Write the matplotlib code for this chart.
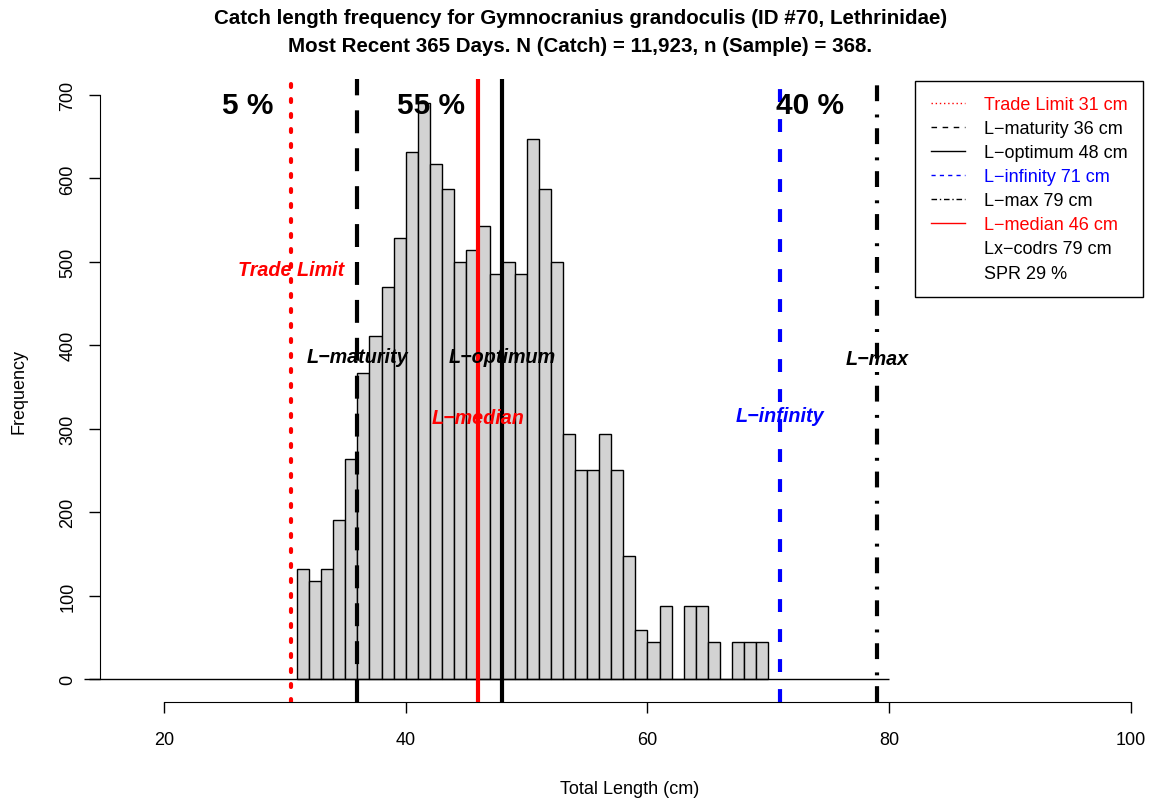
import numpy as np
import matplotlib
matplotlib.use("Agg")
import matplotlib.pyplot as plt
from matplotlib.lines import Line2D

plt.rcParams['font.family'] = ['Liberation Sans', 'DejaVu Sans']

# length bins (cm, left edges) and frequencies
bin_left = list(range(31, 70))
freq = [132, 117, 132, 191, 264, 367, 411, 470, 529, 632,
        690, 617, 587, 500, 514, 543, 485, 500, 485, 647,
        587, 500, 294, 250, 250, 294, 250, 147, 59, 44,
        88, 0, 88, 88, 44, 0, 44, 44, 44]

# reference lengths
trade_limit = 30.5
l_maturity = 36
l_optimum = 48
l_infinity = 71
l_max = 79
l_median = 46

pct_labels = ["5 %", "55 %", "40 %"]
pct_x = [26.95, 42.1, 73.45]

legend_labels = ["Trade Limit 31 cm", "L\u2212maturity 36 cm", "L\u2212optimum 48 cm",
                 "L\u2212infinity 71 cm", "L\u2212max 79 cm", "L\u2212median 46 cm",
                 "Lx\u2212codrs 79 cm", "SPR 29 %"]
legend_colors = ["red", "black", "black", "blue", "black", "red", "black", "black"]

fig = plt.figure(figsize=(11.61, 8.03), dpi=100)
ax = fig.add_axes([100 / 1161, 100 / 803, 1060 / 1161, 623 / 803])

ax.bar(bin_left, freq, width=1, align='edge', color='#D3D3D3',
       edgecolor='black', linewidth=1, zorder=2)
ax.hlines(0, 13.4, 80, color='black', linewidth=1, zorder=3, clip_on=False)

# vertical reference lines
ax.axvline(trade_limit, color='red', lw=3, linestyle=(0, (0.7, 2.9)),
           dash_capstyle='round', zorder=4)
ax.axvline(l_maturity, color='black', lw=3, linestyle=(0, (5.5, 3.6)), zorder=4)
ax.axvline(l_optimum, color='black', lw=3, zorder=4)
ax.axvline(l_infinity, color='blue', lw=3, linestyle=(0, (3.1, 4.1)), zorder=4)
ax.axvline(l_max, color='black', lw=3, linestyle=(0, (3.8, 2.6, 0.7, 3.2)), zorder=4)
ax.axvline(l_median, color='red', lw=3, zorder=4)

# line labels
lab_kw = dict(ha='center', va='center', fontsize=14.2, fontweight='bold',
              fontstyle='italic', zorder=5)
ax.text(trade_limit, 491, "Trade Limit", color='red', **lab_kw)
ax.text(l_maturity, 386, "L\u2212maturity", color='black', **lab_kw)
ax.text(l_optimum, 386, "L\u2212optimum", color='black', **lab_kw)
ax.text(l_median, 313, "L\u2212median", color='red', **lab_kw)
ax.text(l_infinity, 316, "L\u2212infinity", color='blue', **lab_kw)
ax.text(l_max, 384, "L\u2212max", color='black', **lab_kw)

for x, t in zip(pct_x, pct_labels):
    ax.text(x, 688, t, ha='center', va='center', fontsize=21.5,
            fontweight='bold', zorder=5)

# legend
handles = [
    Line2D([], [], color='red', lw=1, linestyle=(0, (1, 2))),
    Line2D([], [], color='black', lw=1, linestyle=(0, (4, 4))),
    Line2D([], [], color='black', lw=1),
    Line2D([], [], color='blue', lw=1, linestyle=(0, (3, 3))),
    Line2D([], [], color='black', lw=1, linestyle=(0, (4, 2, 1, 2))),
    Line2D([], [], color='red', lw=1),
    Line2D([], [], linestyle='none'),
    Line2D([], [], linestyle='none'),
]
leg = ax.legend(handles, legend_labels, loc='upper right',
                bbox_to_anchor=(0.984, 0.997), borderaxespad=0,
                fontsize=13, labelcolor=legend_colors, fancybox=False,
                edgecolor='black', framealpha=1, handlelength=1.9,
                handletextpad=1.05, labelspacing=0.39, borderpad=0.85)
leg.get_frame().set_linewidth(1)

ax.set_xlim(14.705, 102.4)
ax.set_ylim(-27.57, 719.2)
ax.set_xticks([20, 40, 60, 80, 100])
ax.set_yticks(range(0, 701, 100))
for s in ['top', 'right']:
    ax.spines[s].set_visible(False)
ax.spines['bottom'].set_bounds(20, 100)
ax.spines['left'].set_bounds(0, 700)
ax.tick_params(axis='both', length=8, width=1, labelsize=13)
ax.tick_params(axis='x', pad=13)
ax.tick_params(axis='y', pad=9)
for lbl in ax.get_yticklabels():
    lbl.set_rotation(90)
    lbl.set_va('center')

ax.set_xlabel("Total Length (cm)", fontsize=13, labelpad=23)
ax.set_ylabel("Frequency", fontsize=13, labelpad=23)

fig.text(0.5, 1 - 18 / 803,
         "Catch length frequency for Gymnocranius grandoculis (ID #70, Lethrinidae)",
         ha='center', va='center', fontsize=14.8, fontweight='bold')
fig.text(0.5, 1 - 47 / 803,
         "Most Recent 365 Days. N (Catch) = 11,923, n (Sample) = 368.",
         ha='center', va='center', fontsize=14.8, fontweight='bold')

fig.savefig("out.png", dpi=100)
